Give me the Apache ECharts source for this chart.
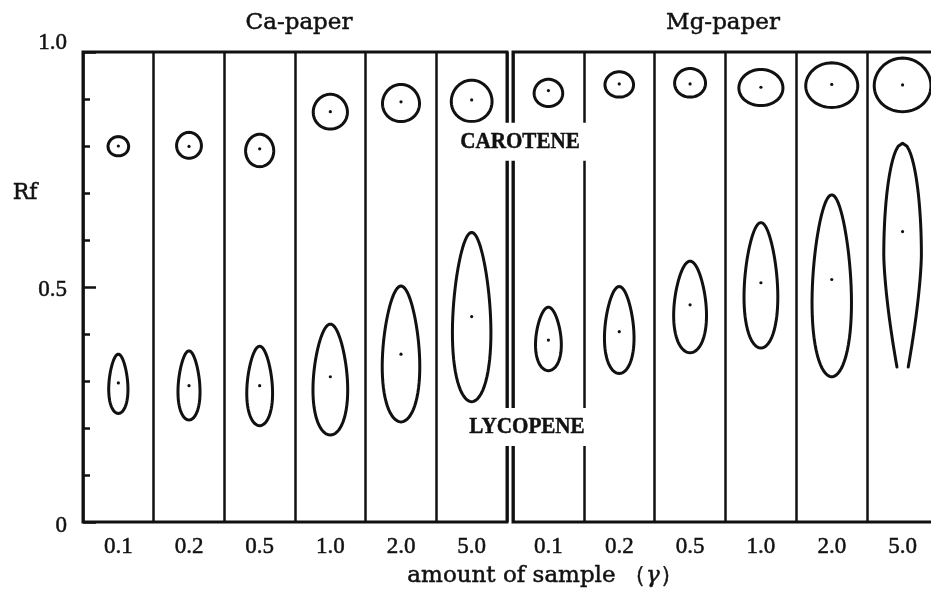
<!DOCTYPE html>
<html>
<head>
<meta charset="utf-8">
<script src="https://cdn.jsdelivr.net/npm/echarts@6/dist/echarts.min.js"></script>
<style>
  html, body { margin: 0; padding: 0; background: #fff; }
  #chart { width: 931px; height: 592px; }
</style>
</head>
<body>
<div id="chart"></div>
<script>
// Sample amounts (γ) spotted on each lane
const amounts = ['0.1', '0.2', '0.5', '1.0', '2.0', '5.0'];
const rfLabelTicks = [0, 0.5, 1.0];

// Carotene spots on Ca-paper: Rf of spot centre, leading / trailing edge, spot width (Rf units)
const caCaroteneRf     = [0.800, 0.799, 0.794, 0.873, 0.894, 0.898];
const caCaroteneTop    = [0.820, 0.829, 0.825, 0.910, 0.931, 0.940];
const caCaroteneBottom = [0.779, 0.774, 0.756, 0.836, 0.852, 0.852];
const caCaroteneWidth  = [0.044, 0.053, 0.060, 0.073, 0.079, 0.087];

// Lycopene spots on Ca-paper
const caLycopeneRf     = [0.296, 0.290, 0.290, 0.309, 0.357, 0.437];
const caLycopeneTop    = [0.357, 0.364, 0.374, 0.421, 0.502, 0.616];
const caLycopeneBottom = [0.231, 0.217, 0.205, 0.185, 0.213, 0.256];
const caLycopeneWidth  = [0.041, 0.047, 0.055, 0.074, 0.080, 0.082];

// Carotene spots on Mg-paper
const mgCaroteneRf     = [0.918, 0.932, 0.932, 0.925, 0.931, 0.930];
const mgCaroteneTop    = [0.942, 0.958, 0.965, 0.963, 0.977, 0.987];
const mgCaroteneBottom = [0.884, 0.904, 0.904, 0.886, 0.882, 0.873];
const mgCaroteneWidth  = [0.061, 0.061, 0.066, 0.094, 0.111, 0.121];

// Lycopene spots on Mg-paper (the heaviest load tails and stays open at the rear)
const mgLycopeneRf     = [0.387, 0.405, 0.462, 0.509, 0.516, 0.618];
const mgLycopeneTop    = [0.457, 0.501, 0.555, 0.637, 0.696, 0.806];
const mgLycopeneBottom = [0.322, 0.316, 0.360, 0.370, 0.309, 0.330];
const mgLycopeneWidth  = [0.055, 0.063, 0.070, 0.072, 0.084, 0.080];
const mgLycopeneTailing = [false, false, false, false, false, true];

const INK = '#111';
const SPOT_LINE = 3;

function spotRows(rf, top, bottom, width, tailing) {
  return rf.map((v, i) => [i, v, top[i], bottom[i], width[i], tailing && tailing[i] ? 1 : 0]);
}

// Draws one chromatogram spot outline with its centre dot
function makeSpotRenderer(pointiness) {
  return function (params, api) {
    const idx = api.value(0);
    const c = api.coord([idx, api.value(1)]);
    const yTop = api.coord([idx, api.value(2)])[1];
    const yBot = api.coord([idx, api.value(3)])[1];
    const w = api.size([0, api.value(4)])[1];
    const rx = w / 2;
    const cx = c[0];
    const children = [];
    const N = 72;
    if (api.value(5)) {
      // tailing spot: rounded front, narrowing open tail
      const h = yBot - yTop;
      const hw = u => u < 0.5
        ? rx * Math.sqrt(Math.max(0, 1 - Math.pow((0.5 - u) / 0.5, 2)))
        : rx * (1 - 0.7 * Math.pow((u - 0.5) / 0.5, 1.5));
      const pts = [];
      for (let i = N; i >= 0; i--) { const u = i / N; pts.push([cx - hw(u), yTop + u * h]); }
      for (let i = 1; i <= N; i++) { const u = i / N; pts.push([cx + hw(u), yTop + u * h]); }
      children.push({ type: 'polyline', shape: { points: pts },
        style: { fill: null, stroke: INK, lineWidth: SPOT_LINE, lineJoin: 'round', lineCap: 'round' } });
    } else {
      const cyS = (yTop + yBot) / 2;
      const ry = (yBot - yTop) / 2;
      const pts = [];
      for (let i = 0; i < N; i++) {
        const t = 2 * Math.PI * i / N;
        const s = Math.sin(t);
        pts.push([cx + rx * Math.cos(t) * (1 - pointiness * s) / (1 + pointiness * 0.1), cyS - ry * s]);
      }
      children.push({ type: 'polygon', shape: { points: pts },
        style: { fill: null, stroke: INK, lineWidth: SPOT_LINE, lineJoin: 'round' } });
    }
    children.push({ type: 'circle', shape: { cx: cx, cy: c[1], r: 1.6 }, style: { fill: INK } });
    return { type: 'group', children: children };
  };
}

const serifDigits = '"Liberation Serif", "Times New Roman", serif';
const serifText = '"DejaVu Serif", "Liberation Serif", serif';
const heavy = { textBorderColor: INK, textBorderWidth: 0.5 };

function laneAxis(gridIndex) {
  return {
    type: 'category', gridIndex: gridIndex, data: amounts, boundaryGap: true,
    axisLine: { show: false }, axisTick: { show: false },
    axisLabel: Object.assign({ margin: 13, fontFamily: serifDigits, fontSize: 23, color: INK }, heavy),
    splitLine: { show: true, lineStyle: { color: INK, width: 2.5 } }
  };
}

const chart = echarts.init(document.getElementById('chart'), null, { renderer: 'canvas' });

const labelRich = (pad) => Object.assign({ fontFamily: serifDigits, fontSize: 23, color: INK, padding: pad }, heavy);

const option = {
  animation: false,
  backgroundColor: '#fff',
  grid: [
    { left: 83, top: 52, width: 424, height: 470, show: true, borderColor: INK, borderWidth: 3,
      backgroundColor: 'transparent', containLabel: false, outerBoundsMode: 'none' },
    { left: 513, top: 52, width: 425, height: 470, show: true, borderColor: INK, borderWidth: 3,
      backgroundColor: 'transparent', containLabel: false, outerBoundsMode: 'none' }
  ],
  xAxis: [laneAxis(0), laneAxis(1)],
  yAxis: [
    { type: 'value', gridIndex: 0, min: 0, max: 1, interval: 0.1,
      axisLine: { show: false }, splitLine: { show: false },
      axisTick: { show: true, inside: true, length: 7, lineStyle: { color: INK, width: 2.5 } },
      axisLabel: { show: false } },
    { type: 'value', gridIndex: 0, min: 0, max: 1, interval: 0.5, position: 'left',
      axisLine: { show: false }, splitLine: { show: false },
      axisTick: { show: true, inside: true, length: 13, lineStyle: { color: INK, width: 2.5 } },
      axisLabel: {
        margin: 16, fontFamily: serifDigits, fontSize: 23, color: INK,
        formatter: v => {
          const i = rfLabelTicks.indexOf(v);
          const txt = v === 0 ? '0' : v.toFixed(1);
          return i === 2 ? '{t|' + txt + '}' : i === 1 ? '{m|' + txt + '}' : '{b|' + txt + '}';
        },
        rich: {
          t: labelRich([0, 0, 18, 0]),
          m: labelRich([6, 0, 0, 0]),
          b: labelRich([8, 0, 0, 0])
        }
      } },
    { type: 'value', gridIndex: 1, min: 0, max: 1, show: false, splitLine: { show: false } }
  ],
  series: [
    { name: 'Carotene (Ca)', type: 'custom', xAxisIndex: 0, yAxisIndex: 0,
      renderItem: makeSpotRenderer(0.03),
      data: spotRows(caCaroteneRf, caCaroteneTop, caCaroteneBottom, caCaroteneWidth) },
    { name: 'Lycopene (Ca)', type: 'custom', xAxisIndex: 0, yAxisIndex: 0,
      renderItem: makeSpotRenderer(0.2),
      data: spotRows(caLycopeneRf, caLycopeneTop, caLycopeneBottom, caLycopeneWidth) },
    { name: 'Carotene (Mg)', type: 'custom', xAxisIndex: 1, yAxisIndex: 2,
      renderItem: makeSpotRenderer(0.03),
      data: spotRows(mgCaroteneRf, mgCaroteneTop, mgCaroteneBottom, mgCaroteneWidth) },
    { name: 'Lycopene (Mg)', type: 'custom', xAxisIndex: 1, yAxisIndex: 2,
      renderItem: makeSpotRenderer(0.2),
      data: spotRows(mgLycopeneRf, mgLycopeneTop, mgLycopeneBottom, mgLycopeneWidth, mgLycopeneTailing) }
  ]
};
chart.setOption(option);

// Titles, axis captions and the pigment names (white boxes break the lane lines)
const yCarotene = chart.convertToPixel({ yAxisIndex: 0 }, 0.809);
const yLycopene = chart.convertToPixel({ yAxisIndex: 0 }, 0.202);
const yRf = chart.convertToPixel({ yAxisIndex: 0 }, 0.70);

const textStyle = (txt, font) => Object.assign({ text: txt, font: font, fill: INK, align: 'center', verticalAlign: 'middle',
  stroke: INK, lineWidth: 0.5 });

chart.setOption({
  graphic: [
    { type: 'text', z: 100, x: 299, y: 23, style: textStyle('Ca-paper', '23px ' + serifText) },
    { type: 'text', z: 100, x: 723, y: 23, style: textStyle('Mg-paper', '23px ' + serifText) },
    { type: 'text', z: 100, x: 25, y: yRf, style: textStyle('Rf', '22px ' + serifText) },
    { type: 'text', z: 100, x: 545, y: 576,
      style: {
        text: '{a|amount of sample （}{g|γ}{a|）}', align: 'center', verticalAlign: 'middle',
        rich: {
          a: { font: '23px ' + serifText, fill: INK, stroke: INK, lineWidth: 0.5 },
          g: { font: 'italic 23px ' + serifText, fill: INK, stroke: INK, lineWidth: 0.5 }
        }
      } },
    { type: 'text', z: 100, x: 520, y: yCarotene, scaleX: 0.88,
      style: Object.assign(textStyle('CAROTENE', 'bold 24px ' + serifDigits),
        { backgroundColor: '#fff', padding: [7, 8, 7, 8] }) },
    { type: 'text', z: 100, x: 527, y: yLycopene, scaleX: 0.88,
      style: Object.assign(textStyle('LYCOPENE', 'bold 24px ' + serifDigits),
        { backgroundColor: '#fff', padding: [7, 6, 7, 6] }) }
  ]
});
</script>
</body>
</html>
